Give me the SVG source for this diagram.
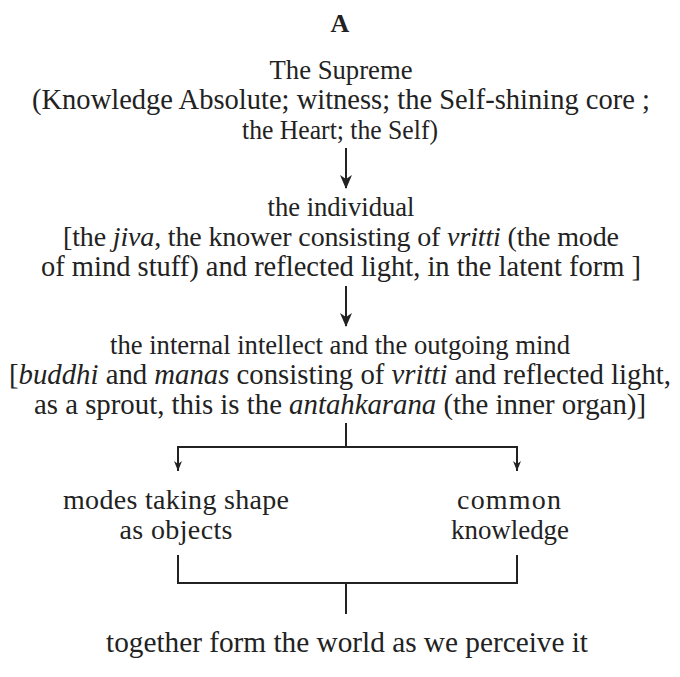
<svg xmlns="http://www.w3.org/2000/svg" width="680" height="677" viewBox="0 0 680 677">
<style>
text{font-family:"Liberation Serif","Times New Roman",serif;font-size:28px;fill:#222;text-anchor:middle}
.l{font-size:29px}
.b{font-weight:bold;font-size:26px}
.i{font-style:italic}
.ln{stroke:#222;stroke-width:2;fill:none}
</style>
<defs>
<marker id="ah" markerWidth="14" markerHeight="12" refX="13" refY="6" orient="auto" markerUnits="userSpaceOnUse" viewBox="0 0 14 12">
<path d="M0,0 L14,6 L0,12 L4,6 Z" fill="#222"/>
</marker>
<marker id="as" markerWidth="10" markerHeight="8" refX="10" refY="4" orient="auto" markerUnits="userSpaceOnUse" viewBox="0 0 10 8">
<path d="M0,0 L10,4 L0,8 L3,4 Z" fill="#222"/>
</marker>
</defs>
<g id="title"><text class="b" x="340" y="32">A</text></g>
<g id="supreme">
<text x="341" y="79" textLength="143" lengthAdjust="spacingAndGlyphs">The Supreme</text>
<text class="l" x="341" y="109" textLength="618" lengthAdjust="spacingAndGlyphs">(Knowledge Absolute; witness; the Self-shining core  ;</text>
<text x="340" y="139" textLength="196" lengthAdjust="spacingAndGlyphs">the Heart; the Self)</text>
</g>
<g id="individual">
<text x="341" y="216" textLength="147" lengthAdjust="spacingAndGlyphs">the individual</text>
<text x="341" y="246" textLength="556" lengthAdjust="spacing">[the <tspan class="i">jiva</tspan>, the knower consisting of <tspan class="i">vritti</tspan> (the mode</text>
<text class="l" x="341" y="276" textLength="600" lengthAdjust="spacingAndGlyphs">of mind stuff) and reflected light, in the latent form  ]</text>
</g>
<g id="intellect">
<text x="340" y="354" textLength="460" lengthAdjust="spacingAndGlyphs">the internal intellect and the outgoing mind</text>
<text class="l" x="340" y="384" textLength="662" lengthAdjust="spacingAndGlyphs">[<tspan class="i">buddhi</tspan> and <tspan class="i">manas</tspan> consisting of <tspan class="i">vritti</tspan> and reflected light,</text>
<text class="l" x="340" y="414" textLength="612" lengthAdjust="spacingAndGlyphs">as a sprout, this is the  <tspan class="i">antahkarana</tspan> (the inner organ)]</text>
</g>
<g id="modes">
<text x="176" y="509" textLength="226" lengthAdjust="spacing">modes taking shape</text>
<text x="176" y="539" textLength="113" lengthAdjust="spacing">as objects</text>
</g>
<g id="common">
<text x="509" y="509" textLength="104" lengthAdjust="spacing">common</text>
<text x="510" y="539" textLength="118" lengthAdjust="spacingAndGlyphs">knowledge</text>
</g>
<g id="world"><text class="l" x="347" y="652" textLength="482" lengthAdjust="spacingAndGlyphs">together form the  world as we perceive it</text></g>
<g id="connectors">
<path class="ln" d="M346,148 V188" marker-end="url(#ah)"/>
<path class="ln" d="M346,286 V326" marker-end="url(#ah)"/>
<path class="ln" d="M346,423 V447"/>
<path class="ln" d="M178,469 V447 H517 V469"/>
<path class="ln" d="M178,460 V471" marker-end="url(#as)"/>
<path class="ln" d="M517,460 V471" marker-end="url(#as)"/>
<path class="ln" d="M178,555 V583 H517 V555"/>
<path class="ln" d="M346,583 V614"/>
</g>
</svg>
